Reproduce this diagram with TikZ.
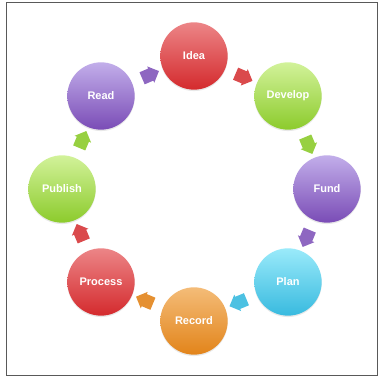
\documentclass[tikz,border=0pt]{standalone}
\usepackage{fontspec}
\setmainfont{Liberation Sans}
\usetikzlibrary{shapes.arrows,shadows}

\definecolor{redT}{HTML}{EC8587}
\definecolor{redB}{HTML}{D42A2D}
\definecolor{greenT}{HTML}{D2F29A}
\definecolor{greenB}{HTML}{8CCB2C}
\definecolor{purpleT}{HTML}{C2AEEA}
\definecolor{purpleB}{HTML}{7A4CB6}
\definecolor{cyanT}{HTML}{9AEAFA}
\definecolor{cyanB}{HTML}{38BADF}
\definecolor{orangeT}{HTML}{F4BC78}
\definecolor{orangeB}{HTML}{E2841A}

\begin{document}
\begin{tikzpicture}
        [x=0.03cm, y=0.03cm,
        stagebox/.style 2 args={circle, minimum size=2.02cm, inner sep=0pt, text=white,
            font=\fontsize{9.4}{11}\selectfont\bfseries, top color=#1, bottom color=#2,
            drop shadow={opacity=0.18, shadow xshift=0pt, shadow yshift=-1.2pt}},
        turn/.style={single arrow, sloped, allow upside down, fill=#1, draw=none,
            minimum height=0.55cm, minimum width=0.52cm, single arrow head extend=0.07cm,
            inner sep=0pt, text height=0.19cm, text depth=0.19cm}]
        \useasboundingbox (0,0) rectangle (379,377);
        \draw[gray!70!black, line width=0.6pt] (6,1.5) rectangle (377.5,375);

        \node[stagebox={redT}{redB}] (idea) at (194,321) {Idea};
        \node[stagebox={greenT}{greenB}] (develop) at (288,281) {Develop};
        \node[stagebox={purpleT}{purpleB}] (fund) at (327,188) {Fund};
        \node[stagebox={cyanT}{cyanB}] (plan) at (288,95) {Plan};
        \node[stagebox={orangeT}{orangeB}] (record) at (194,56) {Record};
        \node[stagebox={redT}{redB}] (process) at (101,95) {Process};
        \node[stagebox={greenT}{greenB}] (publish) at (62,188) {Publish};
        \node[stagebox={purpleT}{purpleB}] (read) at (101,281) {Read};

        \path (idea) -- (develop) node[midway, turn=redB!85] (a1) {};
        \path (develop) -- (fund) node[midway, turn=greenB!90] (a2) {};
        \path (fund) -- (plan) node[midway, turn=purpleB!85] (a3) {};
        \path (plan) -- (record) node[midway, turn=cyanB!90] (a4) {};
        \path (record) -- (process) node[midway, turn=orangeB!90] (a5) {};
        \path (process) -- (publish) node[midway, turn=redB!85] (a6) {};
        \path (publish) -- (read) node[midway, turn=greenB!90] (a7) {};
        \path (read) -- (idea) node[midway, turn=purpleB!85] (a8) {};

    \end{tikzpicture}
\end{document}
